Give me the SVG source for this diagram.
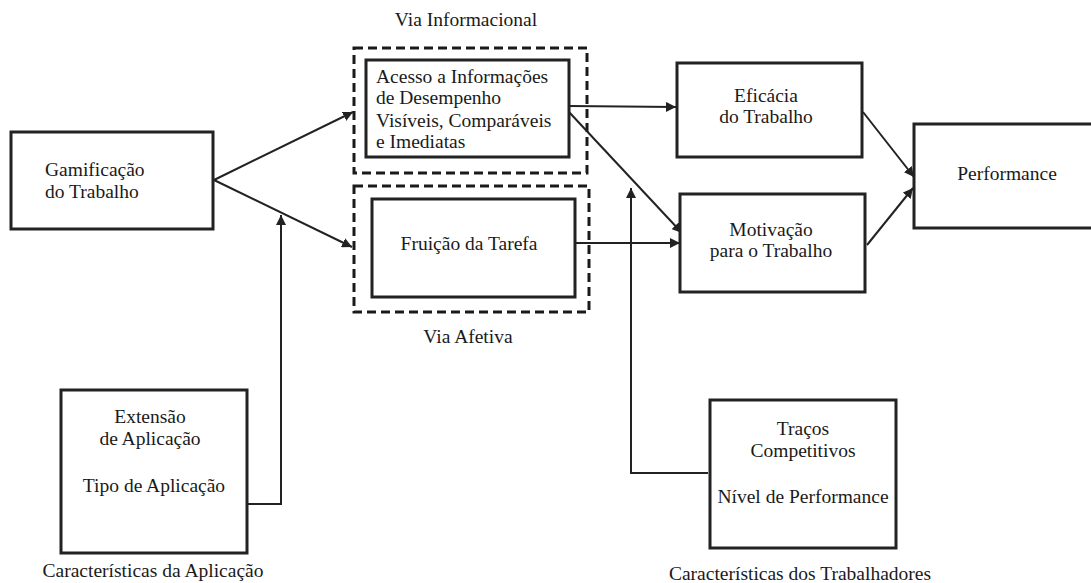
<svg xmlns="http://www.w3.org/2000/svg" width="1091" height="583" viewBox="0 0 1091 583">
<style>
text{font-family:"Liberation Serif","Times New Roman",serif;font-size:19.5px;fill:#1a1a1a}
.c{text-anchor:middle}
.box{fill:#fff;stroke:#222;stroke-width:3}
.dash{fill:none;stroke:#1a1a1a;stroke-width:3;stroke-dasharray:9 5}
.ln{fill:none;stroke:#222;stroke-width:2}
</style>
<defs>
<marker id="ah" viewBox="0 0 10 10" refX="10" refY="5" markerWidth="5" markerHeight="5" orient="auto" markerUnits="strokeWidth">
<path d="M0,0 L10,5 L0,10 z" fill="#222"/>
</marker>
</defs>
<rect width="1091" height="583" fill="#fff"/>

<g id="via-informacional">
<rect class="dash" x="354" y="48" width="233" height="125"/>
<text class="c" x="466" y="26">Via Informacional</text>
</g>
<g id="via-afetiva">
<rect class="dash" x="354" y="186" width="235" height="126"/>
<text class="c" x="468" y="343">Via Afetiva</text>
</g>

<g id="connectors">
<line class="ln" x1="214" y1="180" x2="353" y2="112" marker-end="url(#ah)"/>
<line class="ln" x1="214" y1="180" x2="352" y2="247" marker-end="url(#ah)"/>
<polyline class="ln" points="247,504 281,504 281,215" marker-end="url(#ah)"/>
<line class="ln" x1="569" y1="106" x2="676" y2="107" marker-end="url(#ah)"/>
<line class="ln" x1="569" y1="112" x2="682" y2="233" marker-end="url(#ah)"/>
<line class="ln" x1="575" y1="243" x2="680" y2="243" marker-end="url(#ah)"/>
<polyline class="ln" points="708,473 631,473 631,188" marker-end="url(#ah)"/>
<line class="ln" x1="863" y1="112" x2="914" y2="177" marker-end="url(#ah)"/>
<line class="ln" x1="867" y1="245" x2="913" y2="188" marker-end="url(#ah)"/>
</g>

<g id="gamificacao">
<rect class="box" x="11" y="132" width="202" height="97"/>
<text x="45" y="176">Gamificação</text>
<text x="45" y="198">do Trabalho</text>
</g>

<g id="acesso">
<rect class="box" x="366" y="60" width="203" height="97"/>
<text x="376" y="83">Acesso a Informações</text>
<text x="376" y="104">de Desempenho</text>
<text x="376" y="127">Visíveis, Comparáveis</text>
<text x="376" y="148">e Imediatas</text>
</g>

<g id="fruicao">
<rect class="box" x="372" y="199" width="203" height="98"/>
<text class="c" x="469" y="250">Fruição da Tarefa</text>
</g>

<g id="eficacia">
<rect class="box" x="677" y="63" width="185" height="94"/>
<text class="c" x="766" y="102">Eficácia</text>
<text class="c" x="766" y="123">do Trabalho</text>
</g>

<g id="motivacao">
<rect class="box" x="680" y="194" width="185" height="98"/>
<text class="c" x="771" y="236">Motivação</text>
<text class="c" x="771" y="257">para o Trabalho</text>
</g>

<g id="performance">
<rect class="box" x="914" y="124" width="185" height="104"/>
<text class="c" x="1007" y="180">Performance</text>
</g>

<g id="aplicacao">
<rect class="box" x="61" y="390" width="186" height="163"/>
<text class="c" x="150" y="423">Extensão</text>
<text class="c" x="150" y="445">de Aplicação</text>
<text class="c" x="154" y="492">Tipo de Aplicação</text>
<text class="c" x="153" y="577">Características da Aplicação</text>
</g>

<g id="trabalhadores">
<rect class="box" x="710" y="400" width="186" height="148"/>
<text class="c" x="803" y="435">Traços</text>
<text class="c" x="803" y="457">Competitivos</text>
<text class="c" x="803" y="503">Nível de Performance</text>
<text class="c" x="800" y="580">Características dos Trabalhadores</text>
</g>
</svg>
